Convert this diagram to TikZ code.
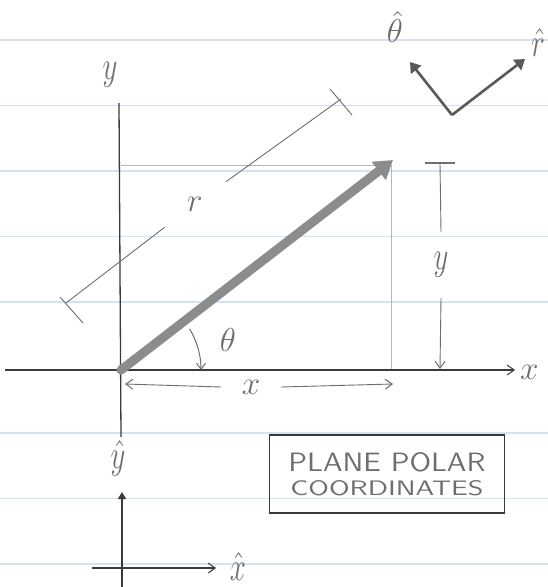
\documentclass[tikz,border=0pt]{standalone}
\usepackage{graphicx}
\usetikzlibrary{arrows.meta}
\definecolor{ruled}{HTML}{D3E3EF}
\definecolor{ink}{HTML}{3A3A3A}
\definecolor{pencil}{HTML}{6E6E6E}
\newcommand{\hwlabel}[1]{\scalebox{2.3}{\Large$#1$}}
\newcommand{\hwtall}[1]{\scalebox{2.0}[2.8]{\Large$#1$}}
\begin{document}
\begin{tikzpicture}[x=1pt,y=-1pt,
  ruleline/.style={draw=ruled, line width=1.3pt},
  axisline/.style={draw=ink, line width=1.3pt},
  openhead/.style={-{Straight Barb[length=7pt,width=10pt,line width=1pt]}},
  guideline/.style={draw=black!28, line width=0.9pt},
  dimline/.style={draw=pencil, line width=0.9pt},
  vecline/.style={draw=black!45, line width=9pt, line cap=round,
    -{Triangle[length=18pt,width=22pt]}},
  unitvec/.style={draw=black!65, line width=2.6pt,
    -{Triangle[length=10pt,width=13pt]}},
  lbl/.style={text=pencil, inner sep=0pt},
  boxtext/.style={draw=ink, line width=1.2pt, text=pencil, align=center,
    minimum width=235pt, minimum height=78pt, inner sep=2pt,
    font=\sffamily}
]
\useasboundingbox (0,0) rectangle (548,587);
\fill[white] (0,0) rectangle (548,587);
% ruled notebook lines
\foreach \yy in {40,105.5,171,236.5,302,433,498.5,564}
  \draw[ruleline] (0,\yy) -- (548,\yy);

% coordinates
\coordinate (O) at (121,370);
\coordinate (P) at (393,160);
\coordinate (yTop) at (119,103);
\coordinate (yBot) at (121,437);
\coordinate (xLeft) at (5,370);
\coordinate (xRight) at (515,370);
\coordinate (hGuideL) at (121,165);
\coordinate (hGuideR) at (391,165);
\coordinate (vGuideB) at (391,369);

% main axes
\draw[axisline] (yTop) -- (yBot);
\draw[axisline, openhead] (xLeft) -- (xRight);
\node[lbl] (ylabel) at (110,75) {\hwtall{y}};
\node[lbl, anchor=west] (xlabel) at (520,372) {\hwlabel{x}};

% projection guides
\draw[guideline] (hGuideL) -- (hGuideR);
\draw[guideline] (hGuideR) -- (vGuideB);

% position vector r
\draw[vecline] (O) -- (P);

% theta arc
\draw[dimline, line width=1pt, -{Straight Barb[length=6pt,width=9pt,line width=1pt]}]
  (O) ++(-31:80) arc[start angle=-31, end angle=0, radius=80];
\node[lbl] (thetalabel) at (228,340) {\hwlabel{\theta}};

% r dimension line
\coordinate (rA) at (66,303);
\coordinate (rB) at (341,99);
\coordinate (rTickA1) at (60,297);
\coordinate (rTickA2) at (83,323);
\coordinate (rTickB1) at (330,89);
\coordinate (rTickB2) at (352,115);
\node[lbl, circle, minimum size=76pt] (rlabel) at (195,204) {\hwlabel{r}};
\draw[dimline] (rA) -- (rlabel);
\draw[dimline] (rlabel) -- (rB);
\draw[dimline] (rTickA1) -- (rTickA2);
\draw[dimline] (rTickB1) -- (rTickB2);

% y dimension line
\coordinate (ydT) at (440,163);
\coordinate (ydTL) at (425,163);
\coordinate (ydTR) at (455,163);
\coordinate (ydB) at (440,369);
\node[lbl, minimum height=66pt] (ydimlabel) at (441,265) {\hwtall{y}};
\draw[dimline, line width=1.6pt] (ydTL) -- (ydTR);
\draw[dimline] (ydT) -- (ydimlabel.north);
\draw[dimline, openhead] (ydimlabel.south) -- (ydB);

% x dimension line
\coordinate (xdL) at (125,384);
\coordinate (xdR) at (393,384);
\node[lbl, minimum width=60pt] (xdimlabel) at (251,387) {\hwlabel{x}};
\draw[dimline, openhead] (xdimlabel.west) -- (xdL);
\draw[dimline, openhead] (xdimlabel.east) -- (xdR);

% unit vectors r-hat and theta-hat
\coordinate (C) at (452,115);
\coordinate (thTip) at (410,62);
\coordinate (rTip) at (525,59);
\draw[unitvec] (C) -- (thTip);
\draw[unitvec] (C) -- (rTip);
\node[lbl] (thetahat) at (395,27) {\hwlabel{\hat{\theta}}};
\node[lbl] (rhat) at (538,42) {\hwtall{\hat{r}}};

% label box
\node[boxtext] (caption) at (387,474)
  {\resizebox{197pt}{19pt}{PLANE POLAR}\\[7pt]\resizebox{193pt}{15pt}{COORDINATES}};

% cartesian unit vectors
\coordinate (uyTop) at (122,492);
\coordinate (uyBot) at (122,587);
\coordinate (uxLeft) at (92,568);
\coordinate (uxRight) at (216,568);
\draw[axisline, line width=1.4pt, -{Triangle[length=7pt,width=8pt]}] (uyBot) -- (uyTop);
\draw[axisline, line width=1.1pt, openhead] (uxLeft) -- (uxRight);
\node[lbl] (yhat) at (118,458) {\hwtall{\hat{y}}};
\node[lbl] (xhat) at (238,566) {\hwtall{\hat{x}}};
\end{tikzpicture}
\end{document}
